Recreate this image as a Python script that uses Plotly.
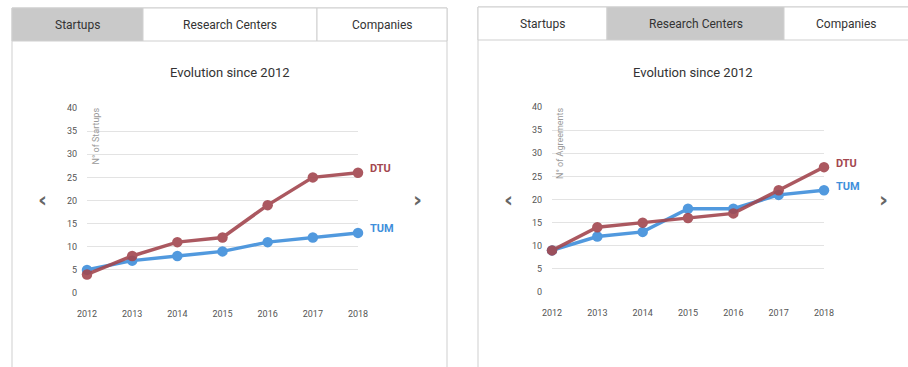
import plotly.graph_objects as go

W, H = 908, 367

years = [2012, 2013, 2014, 2015, 2016, 2017, 2018]
startups_dtu = [4, 8, 11, 12, 19, 25, 26]
startups_tum = [5, 7, 8, 9, 11, 12, 13]
agreements_dtu = [9, 14, 15, 16, 17, 22, 27]
agreements_tum = [9, 12, 13, 18, 18, 21, 22]
tabs = ["Startups", "Research Centers", "Companies"]
y_ticks = [0, 5, 10, 15, 20, 25, 30, 35, 40]

DTU_C = "#a3474f"
TUM_C = "#3f8fdb"
FONT = "Roboto"


def fx(x):
    return x / W


def fy(y):
    return 1 - y / H


fig = go.Figure()

panels = [
    dict(xa="x", ya="y", dtu=startups_dtu, tum=startups_tum, title="N° of Startups",
         px0=87, px1=358, py0=293, py1=108, box=(12, 447, 8, 41), tabx=[12, 143, 317, 447], active=0,
         left_arrow=42, right_arrow=417, vis_right=447),
    dict(xa="x2", ya="y2", dtu=agreements_dtu, tum=agreements_tum, title="N° of Agreements",
         px0=552, px1=824, py0=292, py1=107, box=(478, 930, 7, 40), tabx=[478, 607, 784, 930], active=1,
         left_arrow=508, right_arrow=883, vis_right=908),
]

shapes = []
annotations = []


def ann(x, y, text, **kw):
    d = dict(x=fx(x), y=fy(y), xref="paper", yref="paper", text=text, showarrow=False,
             xanchor="center", yanchor="middle")
    d.update(kw)
    annotations.append(d)


for i, p in enumerate(panels):
    for name, vals, col in (("TUM", p["tum"], TUM_C), ("DTU", p["dtu"], DTU_C)):
        fig.add_trace(go.Scatter(
            x=years, y=vals, mode="lines+markers", name=name,
            line=dict(color=col, width=3.5), marker=dict(color=col, size=10.5),
            opacity=0.9, cliponaxis=False, xaxis=p["xa"], yaxis=p["ya"], showlegend=False))
        annotations.append(dict(x=years[-1], y=vals[-1], xref=p["xa"], yref=p["ya"], text="<b>%s</b>" % name,
                                showarrow=False, xanchor="left", yanchor="middle", xshift=10, yshift=4,
                                font=dict(family=FONT, size=11, color=col)))
    x0, x1, y0, y1 = p["box"]
    shapes.append(dict(type="rect", xref="paper", yref="paper", x0=fx(x0), x1=fx(x1), y0=fy(H + 20), y1=fy(y0),
                       line=dict(color="#cfcfcf", width=1), fillcolor="rgba(0,0,0,0)", layer="below"))
    tx = p["tabx"]
    for k in range(3):
        shapes.append(dict(type="rect", xref="paper", yref="paper", x0=fx(tx[k]), x1=fx(tx[k + 1]),
                           y0=fy(y1), y1=fy(y0), line=dict(color="#cfcfcf", width=1),
                           fillcolor="#c9c9c9" if k == p["active"] else "white", layer="below"))
        ann((tx[k] + min(tx[k + 1], p["vis_right"])) / 2, (y0 + y1) / 2, tabs[k],
            font=dict(family=FONT, size=12, color="#333"))
    ann((x0 + p["vis_right"]) / 2, 72, "Evolution since 2012", font=dict(family=FONT, size=13, color="#333"))
    ann(p["px0"] + 8, p["py1"] - 2, p["title"], textangle=-90, yanchor="top",
        font=dict(family=FONT, size=9, color="#9a9a9a"))
    for ax, txt in ((p["left_arrow"], "‹"), (p["right_arrow"], "›")):
        ann(ax, 199, "<b>%s</b>" % txt, font=dict(family="DejaVu Sans", size=22, color="#666"))

    axis_x = dict(domain=[fx(p["px0"]), fx(p["px1"])], range=[2012, 2018], tickvals=years,
                  showgrid=False, zeroline=False, showline=False, ticks="", ticklabelstandoff=14,
                  tickfont=dict(family=FONT, size=9, color="#555"), fixedrange=True, automargin=False)
    axis_y = dict(domain=[fy(p["py0"]), fy(p["py1"])], range=[0, 40], tickvals=y_ticks,
                  showgrid=True, gridcolor="#e3e3e3", gridwidth=1, zeroline=False, showline=False,
                  ticks="", ticklabelstandoff=9, tickfont=dict(family=FONT, size=9, color="#555"),
                  fixedrange=True, automargin=False)
    if i == 0:
        fig.update_layout(xaxis=axis_x, yaxis=axis_y)
    else:
        axis_x["anchor"] = "y2"
        axis_y["anchor"] = "x2"
        fig.update_layout(xaxis2=axis_x, yaxis2=axis_y)

fig.update_layout(width=W, height=H, margin=dict(l=0, r=0, t=0, b=0, pad=0, autoexpand=False),
                  paper_bgcolor="white", plot_bgcolor="rgba(0,0,0,0)", shapes=shapes,
                  annotations=annotations, showlegend=False)

fig.write_html("out.html", config={"displayModeBar": False})
